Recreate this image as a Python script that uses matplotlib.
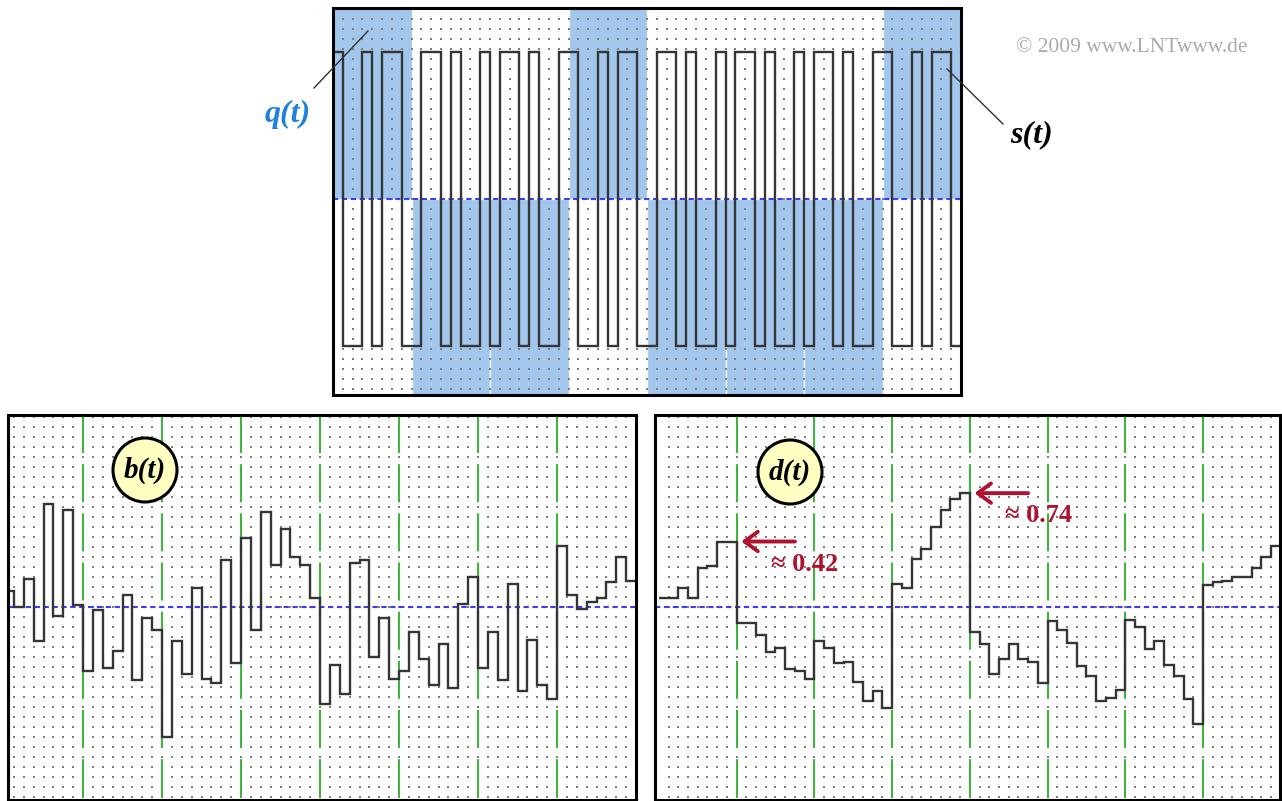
import numpy as np
import matplotlib
matplotlib.use("Agg")
import matplotlib.pyplot as plt
from matplotlib.patches import Ellipse
from matplotlib.lines import Line2D

plt.rcParams['lines.scale_dashes'] = False

W, H = 1282, 801

# data (8 bits, 8 chips per bit)
q_bits = [1, -1, -1, 1, -1, -1, -1, 1]

s_chips = [ 1, -1, -1,  1, -1,  1,  1, -1,
           -1,  1,  1, -1,  1, -1, -1,  1,
           -1,  1,  1, -1,  1, -1, -1,  1,
            1, -1, -1,  1, -1,  1,  1, -1,
           -1,  1,  1, -1,  1, -1, -1,  1,
           -1,  1,  1, -1,  1, -1, -1,  1,
           -1,  1,  1, -1,  1, -1, -1,  1,
            1, -1, -1,  1, -1,  1,  1, -1]

b_chips = [ 0.10,  0.00,  0.18, -0.22,  0.66, -0.06,  0.62,  0.01,
           -0.41, -0.02, -0.39, -0.28,  0.08, -0.47, -0.07, -0.15,
           -0.83, -0.22, -0.43,  0.12, -0.46, -0.49,  0.30, -0.36,
            0.44, -0.15,  0.61,  0.27,  0.50,  0.32,  0.27,  0.06,
           -0.62, -0.37, -0.56,  0.28,  0.30, -0.32, -0.07, -0.46,
           -0.41, -0.16, -0.33, -0.50, -0.24, -0.52,  0.02,  0.19,
           -0.39, -0.16, -0.47,  0.15, -0.54, -0.21, -0.50, -0.59,
            0.39,  0.08, -0.01,  0.03,  0.06,  0.16,  0.32,  0.17]

d_chips = [ 0.06,  0.06,  0.12,  0.06,  0.25,  0.26,  0.42,  0.42,
           -0.10, -0.10, -0.18, -0.29, -0.26, -0.40, -0.41, -0.46,
           -0.22, -0.26, -0.36, -0.35, -0.48, -0.60, -0.54, -0.65,
            0.15,  0.12,  0.31,  0.37,  0.51,  0.62,  0.69,  0.73,
           -0.16, -0.24, -0.43, -0.33, -0.24, -0.33, -0.35, -0.49,
           -0.09, -0.15, -0.23, -0.38, -0.44, -0.60, -0.58, -0.53,
           -0.08, -0.13, -0.27, -0.22, -0.37, -0.44, -0.59, -0.75,
            0.14,  0.16,  0.17,  0.19,  0.19,  0.25,  0.32,  0.39]

d_marks = [1, 4]             # bits whose end value is marked
d_mark_text = ["≈ 0.42", "≈ 0.74"]

n_bits = len(q_bits)
chip_edges = np.arange(len(s_chips) + 1) / 8

BLUE_FILL = '#a2c6ec'
LINE = '#353535'
DOT = '#7e7e7e'
GREEN = '#3fb43f'
RED = '#b0122e'
SERIF = ['Liberation Serif', 'DejaVu Serif']


def px_box(x0, y0, x1, y1):
    return [x0 / W, 1 - y1 / H, (x1 - x0) / W, (y1 - y0) / H]


def dot_grid(ax, step):
    lo, hi = ax.get_ylim()
    n = np.arange(-60, 61) * step
    ys = n[(n > lo) & (n < hi)]
    X, Y = np.meshgrid(chip_edges[1:-1], ys)
    ax.scatter(X.ravel(), Y.ravel(), s=2.4, marker='s', c=DOT,
               linewidths=0, zorder=1)


def frame(ax):
    ax.set_xticks([])
    ax.set_yticks([])
    for sp in ax.spines.values():
        sp.set_linewidth(2.2)
        sp.set_color('black')
        sp.set_zorder(10)


def zero_line(ax):
    ax.axhline(0, color='#3c3cf5', lw=1.5, ls=(0, (3.8, 2.6)), zorder=2)


def bit_lines(ax):
    lo, hi = ax.get_ylim()
    for k in range(1, n_bits):
        ax.plot([k, k], [hi, lo], color=GREEN, lw=1.5,
                ls=(0, (27.4, 8.0)), zorder=2)


fig = plt.figure(figsize=(W / 100, H / 100), dpi=100)

# ---- top panel: q(t) and s(t)
ax_s = fig.add_axes(px_box(333, 8, 961, 395))
ax_s.set_xlim(0, n_bits)
ax_s.set_ylim(-1.336, 1.302)
top, bot = ax_s.get_ylim()[1], ax_s.get_ylim()[0]
heights = [top if q > 0 else bot for q in q_bits]
ax_s.bar(np.arange(n_bits) + 0.5, heights, width=1.0, color=BLUE_FILL,
         edgecolor='white', linewidth=0.9, zorder=0)
dot_grid(ax_s, 10 / 146.7)
zero_line(ax_s)
ax_s.stairs(s_chips, chip_edges, baseline=None, color=LINE, lw=1.7, zorder=3)
frame(ax_s)

# ---- bottom left: b(t)
ax_b = fig.add_axes(px_box(8, 415, 636, 800))
ax_b.set_xlim(0.05, 8.0)
ax_b.set_ylim(-1.237, 1.231)
dot_grid(ax_b, 10 / 156)
bit_lines(ax_b)
zero_line(ax_b)
ax_b.stairs(b_chips, chip_edges, baseline=None, color=LINE, lw=1.7, zorder=3)
frame(ax_b)

# ---- bottom right: d(t)
ax_d = fig.add_axes(px_box(655, 415, 1280, 800))
ax_d.set_xlim(-0.05, 7.99)
ax_d.set_ylim(-1.237, 1.231)
dot_grid(ax_d, 10 / 156)
bit_lines(ax_d)
zero_line(ax_d)
ax_d.stairs(d_chips, chip_edges, baseline=None, color=LINE, lw=1.7, zorder=3)
frame(ax_d)

for bit, label in zip(d_marks, d_mark_text):
    yv = d_chips[bit * 8 - 1]
    ax_d.annotate('', xy=(bit + 0.06, yv), xytext=(bit + 0.75, yv),
                  arrowprops=dict(arrowstyle='->,head_length=0.95,head_width=0.7',
                                  color=RED, lw=2.8, shrinkA=0, shrinkB=0),
                  zorder=6)
    ax_d.text(bit + 0.88, yv - 0.145, label, color=RED, fontsize=19,
              fontweight='bold', family=SERIF, ha='center', va='center',
              zorder=6)

# ---- circled labels
for cx, cy, txt in [(145, 470, 'b(t)'), (790, 472, 'd(t)')]:
    fig.add_artist(Ellipse((cx / W, 1 - cy / H), 64 / W, 64 / H,
                           transform=fig.transFigure, facecolor='#ffffc2',
                           edgecolor='black', lw=2.2, zorder=5))
    fig.text(cx / W, 1 - cy / H, txt, fontsize=21, fontweight='bold',
             style='italic', family=SERIF, ha='center', va='center', zorder=6)

# ---- signal names with leader lines
fig.text(288 / W, 1 - 114 / H, 'q(t)', color='#1f80e0', fontsize=23,
         fontweight='bold', style='italic', family=SERIF,
         ha='center', va='center')
fig.add_artist(Line2D([314 / W, 368 / W], [1 - 88 / H, 1 - 31 / H],
                      transform=fig.transFigure, color='#303030', lw=1.0))

fig.text(1031 / W, 1 - 135 / H, 's(t)', color='black', fontsize=23,
         fontweight='bold', style='italic', family=SERIF,
         ha='center', va='center')
fig.add_artist(Line2D([947 / W, 1003 / W], [1 - 69 / H, 1 - 124 / H],
                      transform=fig.transFigure, color='#303030', lw=1.0))

fig.text(1132 / W, 1 - 48 / H, '© 2009 www.LNTwww.de', color='#aaaaaa',
         fontsize=15.5, family=SERIF, ha='center', va='center')

fig.savefig('out.png', dpi=100, facecolor='white')
